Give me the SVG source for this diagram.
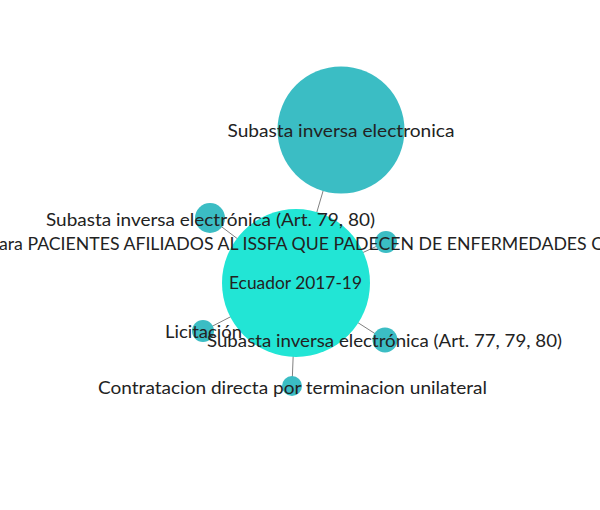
<svg xmlns="http://www.w3.org/2000/svg" width="600" height="510" viewBox="0 0 600 510">
<style>
.bg{fill:#ffffff}
.n{fill:#3bbdc4}
.root{fill:#22e5d5}
.e{stroke:#808080;stroke-width:1;fill:none}
.t{font-family:"Lato","Noto Sans","Liberation Sans",sans-serif;font-size:17px;font-weight:400;fill:#222222;text-anchor:middle}
</style>
<rect class="bg" x="0" y="0" width="600" height="510"/>
<g id="connectors">
<line class="e" x1="296" y1="283" x2="341" y2="130"/>
<line class="e" x1="296" y1="283" x2="210" y2="218"/>
<line class="e" x1="296" y1="283" x2="386" y2="242"/>
<line class="e" x1="296" y1="283" x2="203" y2="331"/>
<line class="e" x1="296" y1="283" x2="385" y2="340"/>
<line class="e" x1="296" y1="283" x2="292" y2="386"/>
</g>
<g id="node-subasta-electronica">
<circle class="n" cx="341" cy="130" r="63.5"/>
</g>
<g id="node-art79">
<circle class="n" cx="210" cy="218" r="15"/>
</g>
<g id="node-issfa">
<circle class="n" cx="386" cy="242" r="11"/>
</g>
<g id="node-ecuador">
<circle class="root" cx="296" cy="283" r="74"/>
</g>
<g id="node-licitacion">
<circle class="n" cx="203" cy="331" r="11"/>
</g>
<g id="node-art77">
<circle class="n" cx="385" cy="340" r="12.5"/>
</g>
<g id="node-contratacion">
<circle class="n" cx="292" cy="386" r="10"/>
</g>
<g id="labels">
<text class="t" x="341" y="137" textLength="227" lengthAdjust="spacingAndGlyphs">Subasta inversa electronica</text>
<text class="t" x="210.5" y="226" textLength="329" lengthAdjust="spacingAndGlyphs">Subasta inversa electrónica (Art. 79, 80)</text>
<text class="t" x="-1" y="250" style="text-anchor:start" textLength="604" lengthAdjust="spacingAndGlyphs">ara PACIENTES AFILIADOS AL ISSFA QUE PADECEN DE ENFERMEDADES C</text>
<text class="t" x="295.5" y="289" textLength="133" lengthAdjust="spacingAndGlyphs">Ecuador 2017-19</text>
<text class="t" x="203.5" y="338" textLength="77" lengthAdjust="spacingAndGlyphs">Licitación</text>
<text class="t" x="384.5" y="347" textLength="355" lengthAdjust="spacingAndGlyphs">Subasta inversa electrónica (Art. 77, 79, 80)</text>
<text class="t" x="292.5" y="394" textLength="389" lengthAdjust="spacingAndGlyphs">Contratacion directa por terminacion unilateral</text>
</g>
</svg>
